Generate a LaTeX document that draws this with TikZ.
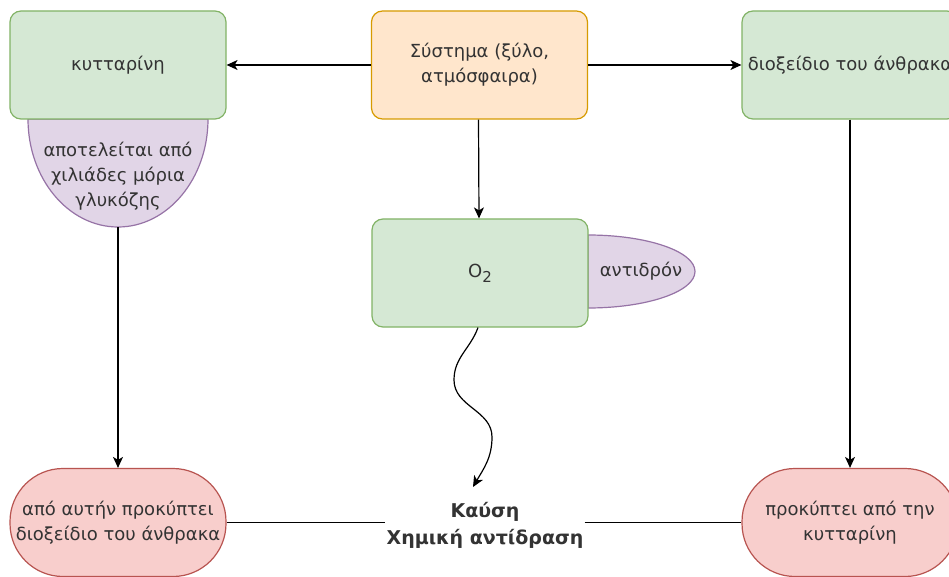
\documentclass[tikz,border=0pt]{standalone}
\usepackage{fontspec}
\setmainfont{DejaVu Sans}
\usetikzlibrary{arrows.meta}
\definecolor{gfill}{HTML}{D5E8D4}
\definecolor{gline}{HTML}{82B366}
\definecolor{ofill}{HTML}{FFE6CC}
\definecolor{oline}{HTML}{D79B00}
\definecolor{pfill}{HTML}{E1D5E7}
\definecolor{pline}{HTML}{9673A6}
\definecolor{rfill}{HTML}{F8CECC}
\definecolor{rline}{HTML}{B85450}
\definecolor{txt}{HTML}{333333}
\begin{document}
\begin{tikzpicture}[x=1pt,y=-1pt,
  every node/.style={font=\fontsize{18}{25}\selectfont, text=txt, align=center},
  box/.style={draw, line width=1.2pt, rounded corners=11pt, minimum width=216pt, minimum height=108pt, inner sep=0pt},
  greenbox/.style={box, fill=gfill, draw=gline},
  orangebox/.style={box, fill=ofill, draw=oline},
  redbox/.style={box, fill=rfill, draw=rline, rounded corners=53pt},
  purp/.style={fill=pfill, draw=pline, line width=1.2pt},
  conn/.style={line width=1.2pt, draw=black},
  arr/.style={conn, -{Stealth[length=11pt,width=10pt,inset=3pt]}}]
\useasboundingbox (0,0) rectangle (949,577);
\fill[white] (0,0) rectangle (949,577);
\clip (0,0) rectangle (949,577);

% purple shapes
\draw[purp] (28,119) arc[start angle=180, end angle=0, x radius=90, y radius=108] -- cycle;
\draw[purp] (588,235) arc[start angle=-90, end angle=90, x radius=107, y radius=36.5] -- cycle;

\node[greenbox] (kyt) at (118,65) {κυτταρίνη};
\node[orangebox] (sys) at (479.5,65) {Σύστημα (ξύλο,\\ατμόσφαιρα)};
\node[greenbox] (dio) at (850,65) {διοξείδιο του άνθρακα};
\node[greenbox] (o2) at (480,273) {O\raisebox{-5pt}{\fontsize{15}{15}\selectfont 2}};
\node (glu) at (118,176) {αποτελείται από\\χιλιάδες μόρια\\γλυκόζης};
\coordinate (glubot) at (118,227);
\node (ant) at (641,271.5) {αντιδρόν};
\node[redbox] (redL) at (118,522.5) {από αυτήν προκύπτει\\διοξείδιο του άνθρακα};
\node[redbox] (redR) at (850,522.5) {προκύπτει από την\\κυτταρίνη};
\node[font=\fontsize{19}{27}\selectfont\bfseries, inner sep=1pt] (kaf) at (485,525) {Καύση\\Χημική αντίδραση};

\draw[arr] (sys.west) -- (kyt.east);
\draw[arr] (sys.east) -- (dio.west);
\draw[arr] ([xshift=-1pt]sys.south) -- ([xshift=-1pt]o2.north);
\draw[arr] (glubot) -- (redL.north);
\draw[arr] (dio.south) -- (redR.north);
\draw[conn] (redL.east) -- (redL.east -| kaf.west);
\draw[conn] (redR.west -| kaf.east) -- (redR.west);
\coordinate (w1) at (454,380);
\coordinate (w2) at (492,437);
\coordinate (wt) at (473,487);
\draw[arr] ([xshift=-2pt]o2.south) to[out=250,in=90] (w1) to[out=270,in=90] (w2) to[out=270,in=60] (wt);
\end{tikzpicture}
\end{document}
